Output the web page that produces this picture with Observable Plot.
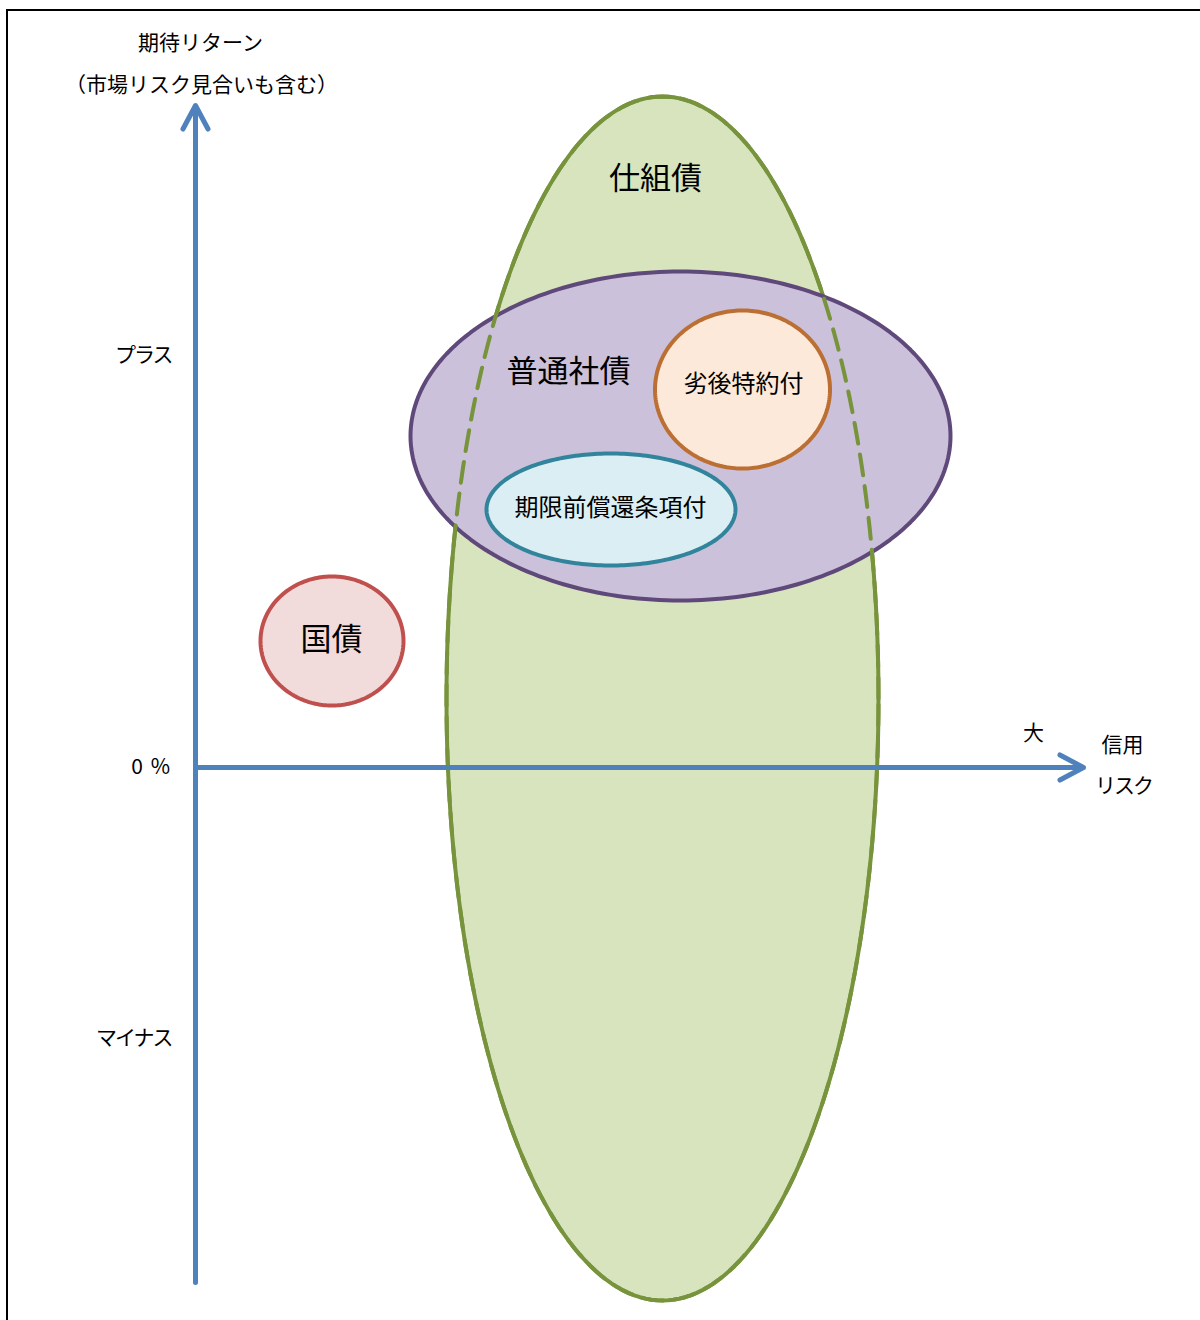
<!DOCTYPE html>
<html><head><meta charset="utf-8">
<script src="https://cdn.jsdelivr.net/npm/d3@7"></script>
<script src="https://cdn.jsdelivr.net/npm/@observablehq/plot@0.6"></script>
<style>
body{margin:0;background:#fff;}
#wrap{position:relative;width:1200px;height:1320px;overflow:hidden;}
#frame{position:absolute;left:6px;top:9px;right:-10px;bottom:-10px;border-top:2px solid #000;border-left:2px solid #000;pointer-events:none;}
</style></head><body><div id="wrap"><div id="frame"></div></div>
<script>
// Shapes (x: credit risk, y: expected return; origin at the axes crossing)
const names   = ["仕組債", "普通社債", "劣後特約付", "期限前償還条項付", "国債"];
const centerX = [467, 485, 547, 415.5, 136.5];
const centerY = [69, 331.5, 378, 258, 126.5];
const radiusX = [216, 270, 87.5, 124.5, 71.5];
const radiusY = [602, 164.5, 79, 56, 64.5];
const labelX  = [460, 373, 548, 415, 136];
const labelY  = [588, 395, 383, 259, 127];

// Axis tick labels on the return axis
const tickLabels = ["プラス", "0 %", "マイナス"];
const tickValues = [412, 0, -271];

// Axis titles
const axisTitles = ["期待リターン", "（市場リスク見合いも含む）", "大", "信用", "リスク"];
const axisTitleX = [5, 6, 838, 927, 928];
const axisTitleY = [724, 682, 34, 22, -19];

// Axis extents
const returnAxis = {x: 0, y1: -515, y2: 662};
const riskAxis = {y: 0, x1: 0, x2: 888};

// Styles
const fills   = ["#d7e4bd", "#ccc1da", "#fde9d9", "#dbeef3", "#f2dcdb"];
const strokes = ["#77933c", "#5f497a", "#bb6f33", "#31849b", "#c0504d"];
const font = "'Noto Sans CJK JP', 'Noto Sans', sans-serif";

function outline(i) {
  const pts = [];
  const N = 240;
  for (let k = 0; k < N; k++) {
    const t = 2 * Math.PI * k / N;
    pts.push({x: centerX[i] + radiusX[i] * Math.cos(t), y: centerY[i] + radiusY[i] * Math.sin(t)});
  }
  return pts;
}
const shape = (i, opts = {}) => Plot.line(outline(i), {
  x: "x", y: "y", curve: "linear-closed",
  fill: fills[i], stroke: strokes[i], strokeWidth: 4, ...opts
});

const shapeLabels = names.map((n, i) => ({n, x: labelX[i], y: labelY[i], big: i === 0 || i === 1 || i === 4}));
const ticks = tickLabels.map((t, i) => ({t, y: tickValues[i]}));
const titles = axisTitles.map((t, i) => ({t, x: axisTitleX[i], y: axisTitleY[i]}));
const txt = {fill: "#000", fontFamily: font, fontWeight: 400};

const marks = [
  shape(0),
  shape(1),
  shape(0, {fill: "none", strokeDasharray: "21,11"}),
  shape(2),
  shape(3),
  shape(4),
  Plot.arrow([returnAxis], {x: "x", y1: "y1", y2: "y2", stroke: "#4f81bd", strokeWidth: 5, headLength: 8, headAngle: 56, strokeLinecap: "round"}),
  Plot.arrow([riskAxis], {y: "y", x1: "x1", x2: "x2", stroke: "#4f81bd", strokeWidth: 5, headLength: 8, headAngle: 56, strokeLinecap: "round"}),
  Plot.text(shapeLabels.filter(d => d.big), {x: "x", y: "y", text: "n", fontSize: 31, ...txt}),
  Plot.text(shapeLabels.filter(d => !d.big), {x: "x", y: "y", text: "n", fontSize: 24, ...txt}),
  Plot.text(ticks, {x: () => -24, y: "y", text: "t", textAnchor: "end", fontSize: 21, ...txt}),
  Plot.text(titles, {x: "x", y: "y", text: "t", fontSize: 21, ...txt})
];

const chart = Plot.plot({
  width: 1200, height: 1320,
  margin: 0,
  x: {domain: [-195, 1005], axis: null},
  y: {domain: [-553, 767], axis: null},
  style: {background: "transparent", overflow: "visible"},
  marks
});
// Narrower kana spacing, as in the original font
const narrow = new Set(["プラス", "マイナス", "リスク"]);
d3.select(chart).selectAll("text").each(function () {
  const s = this.textContent;
  if (narrow.has(s)) this.setAttribute("letter-spacing", "-2");
  if (s === "0 %") this.setAttribute("letter-spacing", "1.5");
});
document.getElementById("wrap").prepend(chart);
</script>
</body></html>
